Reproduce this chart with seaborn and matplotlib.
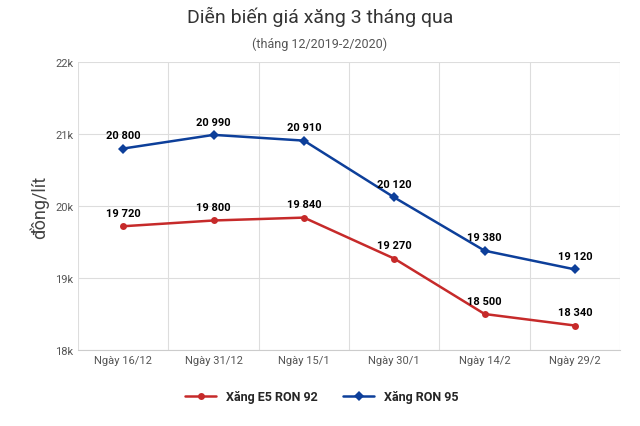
import pandas as pd
import matplotlib
matplotlib.use('Agg')
import matplotlib.pyplot as plt
import seaborn as sns

dates = ['Ngày 16/12', 'Ngày 31/12', 'Ngày 15/1', 'Ngày 30/1', 'Ngày 14/2', 'Ngày 29/2']
e5 = [19720, 19800, 19840, 19270, 18500, 18340]
ron95 = [20800, 20990, 20910, 20120, 19380, 19120]
series_names = ['Xăng E5 RON 92', 'Xăng RON 95']
colors = ['#c62a2a', '#0d3f9a']

sns.set_style('white')
plt.rcParams['font.family'] = ['Roboto', 'DejaVu Sans']

df = pd.DataFrame({'x': list(range(6)) * 2,
                   'price': e5 + ron95,
                   'series': [series_names[0]] * 6 + [series_names[1]] * 6})

fig = plt.figure(figsize=(6.4, 4.27), dpi=100)
ax = fig.add_axes([0.122, 0.178, 0.847, 0.674])
sns.lineplot(data=df, x='x', y='price', hue='series', style='series',
             markers={series_names[0]: 'o', series_names[1]: 'D'}, dashes=False,
             palette=colors, linewidth=1.8, markersize=5, markeredgewidth=0, ax=ax)

for vals in (e5, ron95):
    for i, v in enumerate(vals):
        ax.annotate(f'{v:,}'.replace(',', ' '), (i, v), xytext=(0, 6), textcoords='offset points',
                    ha='center', va='bottom', fontsize=8, fontweight='bold', color='black')

ax.set_xlim(-0.5, 5.5)
ax.set_ylim(18000, 22000)
ax.set_xticks(range(6))
ax.set_xticklabels(dates, fontsize=8, color='#555555')
ax.set_yticks([18000, 19000, 20000, 21000, 22000])
ax.set_yticklabels(['18k', '19k', '20k', '21k', '22k'], fontsize=8, color='#555555')
ax.set_xticks([i - 0.5 for i in range(7)], minor=True)
ax.grid(axis='y', color='#dddddd', linewidth=0.8)
ax.grid(axis='x', which='minor', color='#dddddd', linewidth=0.8)
ax.tick_params(axis='both', which='both', length=0)
for s in ax.spines.values():
    s.set_visible(False)
ax.spines['bottom'].set_visible(True)
ax.spines['bottom'].set_color('#cccccc')
ax.set_xlabel('')
ax.set_ylabel('đồng/lít', fontsize=13, color='#444444')

fig.text(0.5, 0.945, 'Diễn biến giá xăng 3 tháng qua', ha='center', fontsize=14, color='#333333')
fig.text(0.5, 0.888, '(tháng 12/2019-2/2020)', ha='center', fontsize=9, color='#555555')

ax.legend(loc='upper center', bbox_to_anchor=(0.45, -0.1), ncol=2, frameon=False,
          prop={'weight': 'bold', 'size': 9}, handlelength=2.5, columnspacing=2)

fig.savefig('out.png', dpi=100)
